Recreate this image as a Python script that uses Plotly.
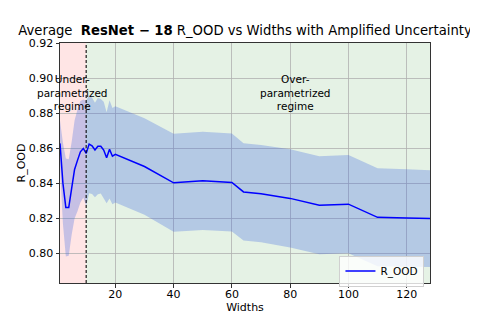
import plotly.graph_objects as go

widths = [1, 2, 3, 4, 5, 6, 7, 8, 9, 10, 11, 12, 13, 14, 15, 16, 17, 18, 19, 20,
          30, 40, 50, 60, 64, 70, 80, 90, 100, 110, 120, 128]
r_ood = [0.8627, 0.8400, 0.8261, 0.8261, 0.8370, 0.8478, 0.8530, 0.8579, 0.8598, 0.8570,
         0.8623, 0.8613, 0.8589, 0.8611, 0.8611, 0.8589, 0.8545, 0.8593, 0.8554, 0.8564,
         0.8495, 0.8402, 0.8413, 0.8404, 0.8350, 0.8340, 0.8313, 0.8274, 0.8280, 0.8205,
         0.8201, 0.8198]
r_std = [0.0130, 0.0230, 0.0280, 0.0275, 0.0265, 0.0280, 0.0290, 0.0290, 0.0280, 0.0300,
         0.0280, 0.0275, 0.0270, 0.0275, 0.0270, 0.0275, 0.0260, 0.0280, 0.0275, 0.0275,
         0.0275, 0.0280, 0.0280, 0.0280, 0.0278, 0.0278, 0.0280, 0.0280, 0.0280, 0.0280,
         0.0278, 0.0276]
x_ticks = [20, 40, 60, 80, 100, 120]
y_ticks = [0.80, 0.82, 0.84, 0.86, 0.88, 0.90, 0.92]
boundary = 10
under_text = "Under-<br>parametrized<br>regime"
over_text = "Over-<br>parametrized<br>regime"

upper = [m + s for m, s in zip(r_ood, r_std)]
lower = [m - s for m, s in zip(r_ood, r_std)]

FONT = "DejaVu Sans"
fig = go.Figure()
fig.add_trace(go.Scatter(x=widths, y=lower, mode="lines", line=dict(width=0),
                         showlegend=False, hoverinfo="skip"))
fig.add_trace(go.Scatter(x=widths, y=upper, mode="lines", line=dict(width=0),
                         fill="tonexty", fillcolor="rgba(65,105,225,0.3)",
                         showlegend=False, hoverinfo="skip"))
fig.add_trace(go.Scatter(x=widths, y=r_ood, mode="lines", name="R_OOD",
                         line=dict(color="#0000ff", width=1.5)))

fig.add_shape(type="rect", xref="x", yref="paper", x0=widths[0], x1=boundary, y0=0, y1=1,
              fillcolor="rgba(255,0,0,0.1)", line=dict(width=0), layer="below")
fig.add_shape(type="rect", xref="x", yref="paper", x0=boundary, x1=widths[-1], y0=0, y1=1,
              fillcolor="rgba(0,128,0,0.1)", line=dict(width=0), layer="below")
fig.add_shape(type="line", xref="x", yref="paper", x0=boundary, x1=boundary, y0=0, y1=1,
              line=dict(color="rgba(0,0,0,0.7)", width=1.5, dash="3px,2px"), layer="above")

for txt, xx in ((under_text, 5.3), (over_text, 82)):
    fig.add_annotation(x=xx, y=0.8918, xref="x", yref="y", text=txt, showarrow=False,
                       yanchor="middle", xanchor="center", borderpad=0,
                       font=dict(family=FONT, size=10.5, color="black"))

# page has an 8px body margin; figure is shrunk accordingly
fig.update_layout(
    width=470, height=311,
    margin=dict(l=52, r=48, t=35, b=36, autoexpand=False),
    paper_bgcolor="white", plot_bgcolor="white",
    font=dict(family=FONT, size=11, color="black"),
    title=dict(text="Average  <b>ResNet − 18</b> R_OOD vs Widths with Amplified Uncertainty",
               x=0.5043, xanchor="center", y=0.929, yanchor="middle",
               font=dict(family=FONT, size=13.2, color="black")),
    legend=dict(x=0.985, y=-0.015, xanchor="right", yanchor="bottom",
                bgcolor="rgba(255,255,255,0.8)", bordercolor="#d0d0d0", borderwidth=1,
                itemwidth=30, font=dict(family=FONT, size=10.5)),
    xaxis=dict(range=[widths[0], widths[-1]], tickvals=x_ticks, showgrid=True, automargin=False,
               gridcolor="rgba(176,176,176,0.8)", gridwidth=1, ticks="outside", ticklen=3.5,
               tickcolor="#333", showline=True, linecolor="#333", linewidth=1, mirror=True,
               ticklabelstandoff=-3,
               zeroline=False, title=dict(text="Widths", standoff=0,
                                           font=dict(family=FONT, size=11))),
    yaxis=dict(range=[0.783, 0.92], tickvals=y_ticks, tickformat=".2f", showgrid=True,
               automargin=False,
               gridcolor="rgba(176,176,176,0.8)", gridwidth=1, ticks="outside", ticklen=3.5,
               tickcolor="#333", showline=True, linecolor="#333", linewidth=1, mirror=True,
               zeroline=False, title=dict(text="R_OOD", standoff=0,
                                           font=dict(family=FONT, size=11))),
)

fig.write_html("out.html")
